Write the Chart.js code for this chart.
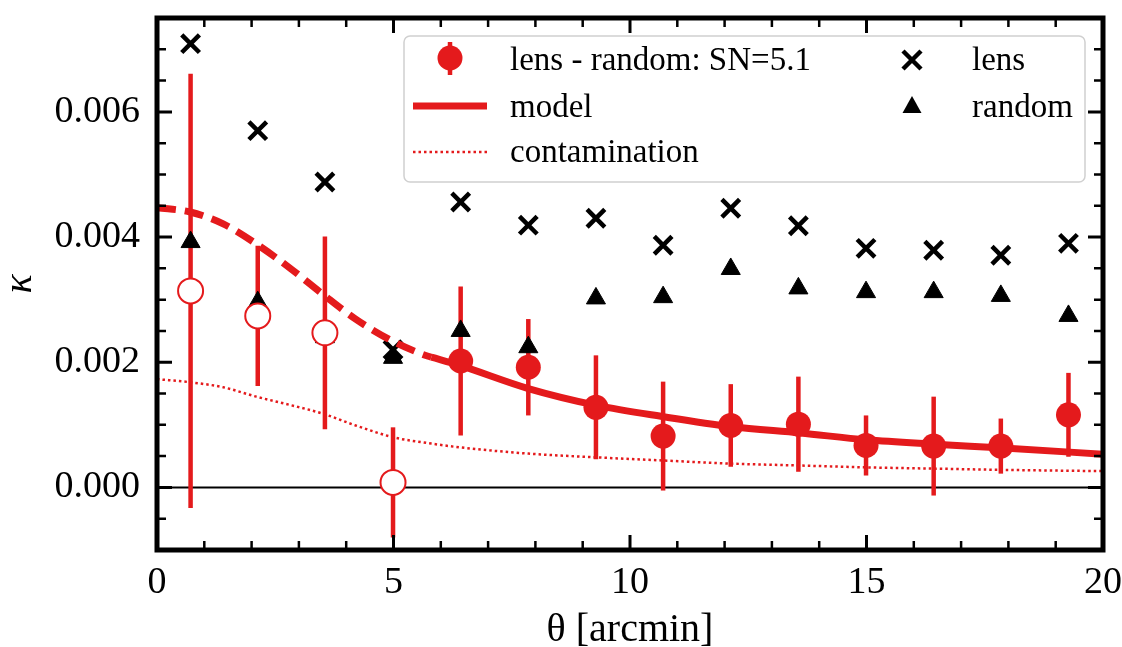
<!DOCTYPE html>
<html>
<head>
<meta charset="utf-8">
<script src="https://cdn.jsdelivr.net/npm/chart.js@4.4.1/dist/chart.umd.min.js"></script>
<style>
  html, body { margin: 0; padding: 0; background: #fff; }
</style>
</head>
<body>
<canvas id="myChart" width="1122" height="647"></canvas>
<script>
// binned measurements
const theta = [0.71, 2.13, 3.55, 4.99, 6.42, 7.85, 9.28, 10.7, 12.13, 13.56, 14.99, 16.42, 17.84, 19.27];
const kappaLens = [0.00709, 0.00570, 0.00488, 0.00220, 0.00456, 0.00419, 0.00430, 0.00387, 0.00446, 0.00418, 0.00382, 0.00379, 0.00371, 0.00390];
const kappaRandom = [0.00392, 0.00296, 0.00240, 0.00207, 0.00250, 0.00224, 0.00302, 0.00304, 0.00349, 0.00318, 0.00312, 0.00312, 0.00306, 0.00274];
const kappaDiff = [0.00314, 0.00274, 0.00247, 0.00008, 0.00202, 0.00192, 0.00128, 0.00082, 0.00099, 0.00101, 0.00067, 0.00066, 0.00066, 0.00116];
const kappaErr = [0.00347, 0.00112, 0.00154, 0.00088, 0.00119, 0.00077, 0.00083, 0.00087, 0.00066, 0.00076, 0.00048, 0.00079, 0.00044, 0.00067];
const nExcluded = 4; // first bins shown as open circles

// model curves
const modelTheta = [0, 0.7, 1.4, 2.1, 2.8, 3.5, 4.2, 4.9, 5.6, 5.8, 6.4, 7.85, 9.3, 10.7, 12.15, 13.6, 15.0, 16.45, 17.9, 20];
const modelKappa = [0.00447, 0.00440, 0.00421, 0.00389, 0.00351, 0.00309, 0.00269, 0.00237, 0.00213, 0.00208, 0.00195, 0.00158, 0.00131, 0.00113, 0.00097, 0.00087, 0.00076, 0.00069, 0.00063, 0.00053];
const modelSplit = 5.8; // dashed below, solid above
const contTheta = [0, 0.7, 1.4, 2.1, 2.8, 3.5, 4.2, 5.0, 5.8, 6.4, 7.85, 9.3, 10.7, 12.15, 13.6, 15.0, 16.45, 17.9, 20];
const contKappa = [0.00173, 0.00168, 0.00160, 0.00145, 0.00132, 0.00118, 0.00099, 0.00080, 0.00070, 0.00064, 0.00054, 0.00048, 0.00043, 0.00038, 0.00035, 0.00032, 0.00030, 0.00028, 0.00026];

// axes
const xTickValues = [0, 5, 10, 15, 20];
const yTickValues = [0, 0.002, 0.004, 0.006];
const xMinorStep = 1;
const yMinorStep = 0.0005;

const red = "rgb(228, 26, 28)";
const pts = (xs, ys) => xs.map((x, i) => ({ x: x, y: ys[i] }));

const errorBars = theta.map((t, i) => ({
  data: [{ x: t, y: kappaDiff[i] - kappaErr[i] }, { x: t, y: kappaDiff[i] + kappaErr[i] }],
  showLine: true,
  borderColor: red,
  borderWidth: 4.5,
  borderCapStyle: "butt",
  pointRadius: 0,
  order: 12,
}));

const framePlugin = {
  id: "frame",
  afterDatasetsDraw(chart) {
    const { ctx, chartArea: a, scales: { x, y } } = chart;
    ctx.save();
    ctx.strokeStyle = "#000";
    ctx.lineCap = "butt";
    const xTick = (v, len, w) => {
      const px = x.getPixelForValue(v);
      ctx.lineWidth = w;
      ctx.beginPath();
      ctx.moveTo(px, a.bottom); ctx.lineTo(px, a.bottom - len);
      ctx.moveTo(px, a.top); ctx.lineTo(px, a.top + len);
      ctx.stroke();
    };
    const yTick = (v, len, w) => {
      const py = y.getPixelForValue(v);
      ctx.lineWidth = w;
      ctx.beginPath();
      ctx.moveTo(a.left, py); ctx.lineTo(a.left + len, py);
      ctx.moveTo(a.right, py); ctx.lineTo(a.right - len, py);
      ctx.stroke();
    };
    for (let v = x.min; v <= x.max + 1e-9; v += xMinorStep) {
      if (!xTickValues.includes(Math.round(v))) xTick(v, 9, 2.5);
    }
    for (let k = Math.round(y.min / yMinorStep); k * yMinorStep <= y.max + 1e-9; k++) {
      const v = k * yMinorStep;
      if (!yTickValues.some(t => Math.abs(t - v) < 1e-9)) yTick(v, 9, 2.5);
    }
    xTickValues.forEach(v => xTick(v, 15, 3));
    yTickValues.forEach(v => yTick(v, 15, 3));
    ctx.lineWidth = 5;
    ctx.strokeRect(a.left, a.top, a.right - a.left, a.bottom - a.top);
    ctx.restore();
  },
};

const legendPlugin = {
  id: "boxLegend",
  afterDraw(chart) {
    const ctx = chart.ctx;
    ctx.save();
    // box
    const bx = 404, by = 36, bw = 681, bh = 146, r = 6;
    ctx.beginPath();
    ctx.moveTo(bx + r, by);
    ctx.arcTo(bx + bw, by, bx + bw, by + bh, r);
    ctx.arcTo(bx + bw, by + bh, bx, by + bh, r);
    ctx.arcTo(bx, by + bh, bx, by, r);
    ctx.arcTo(bx, by, bx + bw, by, r);
    ctx.closePath();
    ctx.fillStyle = "rgba(255,255,255,0.85)";
    ctx.fill();
    ctx.strokeStyle = "#d0d0d0";
    ctx.lineWidth = 1.5;
    ctx.stroke();

    // markers
    ctx.strokeStyle = red;
    ctx.fillStyle = red;
    ctx.lineWidth = 4.5;
    ctx.beginPath(); ctx.moveTo(450, 42); ctx.lineTo(450, 75); ctx.stroke();
    ctx.beginPath(); ctx.arc(450, 58, 12.5, 0, Math.PI * 2); ctx.fill();
    ctx.lineWidth = 7;
    ctx.beginPath(); ctx.moveTo(413, 106); ctx.lineTo(487, 106); ctx.stroke();
    ctx.lineWidth = 2.5;
    ctx.setLineDash([2.5, 3]);
    ctx.beginPath(); ctx.moveTo(413, 152); ctx.lineTo(487, 152); ctx.stroke();
    ctx.setLineDash([]);
    ctx.strokeStyle = "#000";
    ctx.fillStyle = "#000";
    ctx.lineWidth = 4.5;
    ctx.beginPath();
    ctx.moveTo(903, 51); ctx.lineTo(921, 69);
    ctx.moveTo(921, 51); ctx.lineTo(903, 69);
    ctx.stroke();
    ctx.beginPath();
    ctx.moveTo(912, 96); ctx.lineTo(921.5, 113); ctx.lineTo(902.5, 113); ctx.closePath();
    ctx.fill();

    // text
    ctx.font = "33px 'Liberation Serif'";
    ctx.textBaseline = "alphabetic";
    ctx.textAlign = "left";
    ctx.fillText("lens - random: SN=5.1", 510, 70);
    ctx.fillText("model", 510, 117);
    ctx.fillText("contamination", 510, 162);
    ctx.fillText("lens", 972, 70);
    ctx.fillText("random", 972, 117);
    ctx.restore();
  },
};

Chart.defaults.font.family = "'Liberation Serif', serif";
Chart.defaults.color = "#000";

const config = {
  type: "scatter",
  data: {
    datasets: [
      {
        label: "zero",
        data: [{ x: 0, y: 0 }, { x: 20, y: 0 }],
        showLine: true, borderColor: "#000", borderWidth: 2, pointRadius: 0, order: 14,
      },
      {
        label: "contamination",
        data: pts(contTheta, contKappa),
        showLine: true, borderColor: red, borderWidth: 2.5, borderDash: [2.5, 3],
        cubicInterpolationMode: "monotone", pointRadius: 0, order: 13,
      },
      ...errorBars,
      {
        label: "lens",
        data: pts(theta, kappaLens),
        pointStyle: "crossRot", pointRadius: 12.5, borderColor: "#000", borderWidth: 4.5, order: 11,
      },
      {
        label: "random",
        data: pts(theta, kappaRandom),
        pointStyle: "triangle", pointRadius: 11, backgroundColor: "#000", borderColor: "#000", borderWidth: 1, order: 11,
      },
      {
        label: "model (extrapolated)",
        data: pts(modelTheta, modelKappa).filter(p => p.x <= modelSplit),
        showLine: true, borderColor: red, borderWidth: 7, borderDash: [19, 9], borderCapStyle: "butt",
        cubicInterpolationMode: "monotone", pointRadius: 0, order: 10,
      },
      {
        label: "model",
        data: pts(modelTheta, modelKappa).filter(p => p.x >= modelSplit),
        showLine: true, borderColor: red, borderWidth: 7,
        cubicInterpolationMode: "monotone", pointRadius: 0, order: 10,
      },
      {
        label: "lens - random (excluded)",
        data: pts(theta, kappaDiff).slice(0, nExcluded),
        pointStyle: "circle", pointRadius: 12.5, backgroundColor: "#fff", borderColor: red, borderWidth: 2, order: 9,
      },
      {
        label: "lens - random",
        data: pts(theta, kappaDiff).slice(nExcluded),
        pointStyle: "circle", pointRadius: 12.5, backgroundColor: red, borderWidth: 0, order: 9,
      },
    ],
  },
  options: {
    responsive: false,
    animation: false,
    events: [],
    devicePixelRatio: 1,
    layout: { padding: { top: 18, right: 19, left: 0, bottom: 0 } },
    plugins: { legend: { display: false }, tooltip: { enabled: false } },
    scales: {
      x: {
        type: "linear",
        min: 0,
        max: 20,
        grid: { display: false, drawTicks: false },
        border: { display: false },
        afterBuildTicks: s => { s.ticks = xTickValues.map(v => ({ value: v })); },
        afterFit: s => { s.height = 97; s.paddingLeft = 0; s.paddingRight = 0; },
        ticks: { font: { size: 38 }, padding: 10, maxRotation: 0, callback: v => String(v) },
        title: { display: true, text: "θ [arcmin]", font: { size: 40, lineHeight: 1 }, padding: { top: 0, bottom: -3 } },
      },
      y: {
        type: "linear",
        min: -0.001,
        max: 0.0075,
        grid: { display: false, drawTicks: false },
        border: { display: false },
        afterBuildTicks: s => { s.ticks = yTickValues.map(v => ({ value: v })); },
        afterFit: s => { s.width = 157; s.paddingTop = 0; s.paddingBottom = 0; },
        ticks: { font: { size: 38 }, padding: 17, callback: v => v.toFixed(3) },
        title: { display: true, text: "κ", font: { size: 40, style: "italic", lineHeight: 1 }, padding: { top: 0, bottom: 0 } },
      },
    },
  },
  plugins: [framePlugin, legendPlugin],
};

const myChart = new Chart(document.getElementById("myChart"), config);
</script>
</body>
</html>
